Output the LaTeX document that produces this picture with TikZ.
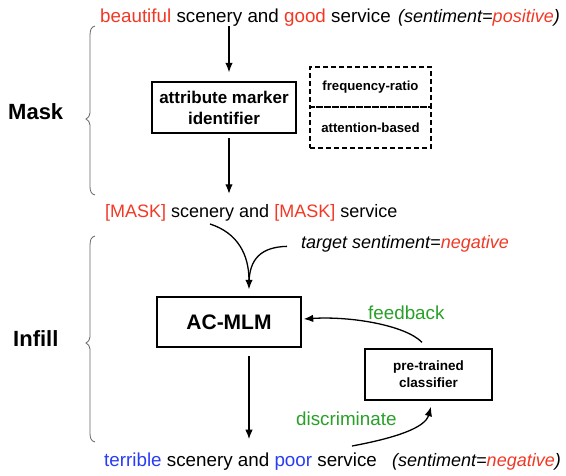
\documentclass[tikz,border=0pt]{standalone}
\usepackage{fontspec}
\setmainfont{Liberation Sans}
\usetikzlibrary{arrows.meta}
\definecolor{myred}{RGB}{242,56,36}
\definecolor{myblue}{RGB}{40,60,245}
\definecolor{mygreen}{RGB}{40,160,40}
\begin{document}
\begin{tikzpicture}[x=1pt,y=-1pt,
  sent/.style={font=\fontsize{18.8}{22}\selectfont, inner sep=0pt, anchor=base west},
  ital/.style={font=\fontsize{18}{22}\selectfont\itshape, inner sep=0pt, anchor=base west},
  box/.style={draw, line width=1.4pt, align=center, inner sep=0pt},
  dbox/.style={draw, line width=1.3pt, dash pattern=on 5pt off 3pt, align=center, inner sep=0pt,
    font=\bfseries\fontsize{13.2}{16}\selectfont},
  arr/.style={-{Latex[length=9.5pt,width=7.5pt]}, line width=1.3pt},
  plain/.style={line width=1.3pt},
  bracepath/.style={draw=black!60, line width=0.8pt},
  stage/.style={font=\bfseries\fontsize{22}{26}\selectfont, inner sep=0pt, anchor=base west}]
\useasboundingbox (0,0) rectangle (566,475);

% stage labels
\node[stage] (mk) at (8,119) {Mask};
\node[stage] (inf) at (13,346) {Infill};

% braces
\path[bracepath] (95,26) .. controls (91,27) and (90,30) .. (90,36) -- (90,113)
  .. controls (90,116) and (88,118) .. (86,119) .. controls (88,120) and (90,122) .. (90,125)
  -- (90,186) .. controls (90,191) and (91,194) .. (95,195);
\path[bracepath] (95,236) .. controls (91,237) and (90,240) .. (90,246) -- (90,337)
  .. controls (90,340) and (88,342) .. (86,343) .. controls (88,344) and (90,346) .. (90,349)
  -- (90,433) .. controls (90,438) and (91,441) .. (95,442);

% sentences
\node[sent] (s1) at (100,22) {\textcolor{myred}{beautiful} scenery and \textcolor{myred}{good} service};
\node[ital] (p1) at (398,22) {(sentiment=\textcolor{myred}{positive})};

\node[sent, font=\fontsize{18}{22}\selectfont] (s2) at (105,217) {\textcolor{myred}{[MASK]} scenery and \textcolor{myred}{[MASK]} service};

\node[ital] (tg) at (301,248) {target sentiment=\textcolor{myred}{negative}};

\node[sent] (s3) at (104,466) {\textcolor{myblue}{terrible} scenery and \textcolor{myblue}{poor} service};
\node[ital] (p3) at (392,466) {(sentiment=\textcolor{myred}{negative})};

\node[sent, text=mygreen] (fb) at (368,319) {feedback};
\node[sent, text=mygreen] (dc) at (296,425) {discriminate};

% boxes
\node[box, minimum width=144pt, minimum height=51pt, font=\bfseries\fontsize{17}{21}\selectfont]
  (ami) at (224,107.5) {attribute marker\\identifier};
\node[dbox, minimum width=121pt, minimum height=40pt] (fr) at (370.5,87) {frequency-ratio};
\node[dbox, minimum width=121pt, minimum height=41pt] (ab) at (370.5,127.5) {attention-based};
\node[box, minimum width=144pt, minimum height=50pt, font=\bfseries\fontsize{21}{25}\selectfont]
  (acm) at (229,322) {AC-MLM};
\node[box, minimum width=127pt, minimum height=51pt, font=\bfseries\fontsize{13.5}{17}\selectfont]
  (cls) at (428.5,374.5) {pre-trained\\classifier};

% connectors
\coordinate (c1) at (229,0);
\coordinate (c2) at (249,0);
\draw[arr, shorten >=9pt] (s1.south -| c1) -- (ami.north -| c1);
\draw[arr, shorten <=4pt, shorten >=10pt] (ami.south -| c1) -- (s2.north -| c1);

\coordinate (m1) at (210,224);
\draw[arr, shorten >=7pt] (m1) .. controls (238,233) and (249,255) .. (acm.north -| c2);
\draw[plain] ([xshift=-14pt,yshift=-3pt]tg.west) .. controls (262,247) and (249,258) .. (249,284);

\draw[arr] ([xshift=-6.5pt,yshift=6pt]cls.north) .. controls (405,325) and (350,316) .. ([xshift=2pt,yshift=3pt]acm.east);

\coordinate (d0) at (352,446);
\draw[arr] (d0) .. controls (395,438) and (425,428) .. ([xshift=2.5pt,yshift=-6pt]cls.south);

\draw[arr, shorten <=8pt, shorten >=13pt] (acm.south -| c2) -- (s3.north -| c2);
\end{tikzpicture}
\end{document}
